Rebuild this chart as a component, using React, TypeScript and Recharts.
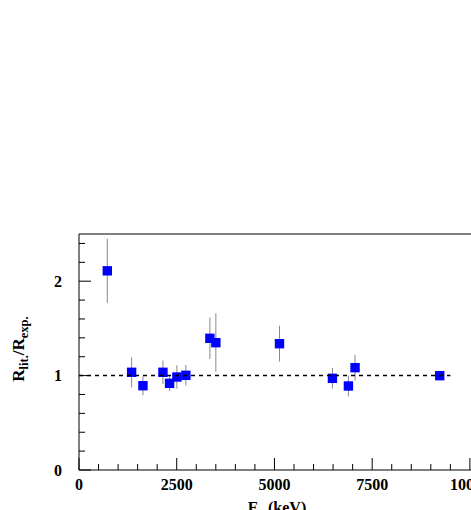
import React from "react";
import { ScatterChart, Scatter, XAxis, YAxis, ErrorBar, ReferenceLine } from "recharts";

// gamma energies (keV) and R_lit/R_exp ratios
const energies = [724, 1346, 1636, 2147, 2317, 2504, 2734, 3348, 3501, 5129, 6483, 6892, 7062, 9228];
const ratios = [2.11, 1.035, 0.893, 1.035, 0.918, 0.985, 1.003, 1.395, 1.349, 1.338, 0.971, 0.89, 1.084, 0.999];
const errDown = [0.34, 0.16, 0.1, 0.125, 0.08, 0.125, 0.11, 0.22, 0.31, 0.19, 0.11, 0.11, 0.135, 0.02];
const errUp = [0.34, 0.16, 0.1, 0.125, 0.08, 0.125, 0.11, 0.22, 0.31, 0.19, 0.11, 0.11, 0.135, 0.02];

const unityLineX = [0, 9500];
const unityLineY = [1, 1];

const xTicks = [0, 500, 1000, 1500, 2000, 2500, 3000, 3500, 4000, 4500, 5000, 5500, 6000, 6500, 7000, 7500, 8000, 8500, 9000, 9500, 10000, 10500, 11000];
const xMajor = [0, 2500, 5000, 7500, 10000];
const yTicks = [0, 0.2, 0.4, 0.6, 0.8, 1, 1.2, 1.4, 1.6, 1.8, 2, 2.2, 2.4];
const yMajor = [0, 1, 2];
const yTop = 2.5;

const points = energies.map((e, i) => ({ e, r: ratios[i], err: [errDown[i], errUp[i]] }));
const unityLine = unityLineX.map((e, i) => ({ e, r: unityLineY[i] }));

const FONT = "'Liberation Serif', 'DejaVu Serif', serif";

function XTick({ x, y, payload }: any) {
  const major = xMajor.includes(payload.value);
  return (
    <g>
      <line x1={x} x2={x} y1={y} y2={y - (major ? 12 : 6)} stroke="#000" strokeWidth={1} />
      {major && (
        <text x={x} y={y + 20} textAnchor="middle" fontFamily={FONT} fontWeight="bold" fontSize={16} fill="#000">
          {payload.value}
        </text>
      )}
    </g>
  );
}

function YTick({ x, y, payload }: any) {
  const major = yMajor.some((m) => Math.abs(m - payload.value) < 1e-6);
  return (
    <g>
      <line x1={x} x2={x + (major ? 12 : 6)} y1={y} y2={y} stroke="#000" strokeWidth={1} />
      {major && (
        <text x={x - 17} y={y} dy="0.35em" textAnchor="end" fontFamily={FONT} fontWeight="bold" fontSize={16} fill="#000">
          {payload.value}
        </text>
      )}
    </g>
  );
}

function Square({ cx, cy }: any) {
  return <rect x={cx - 4.7} y={cy - 4.7} width={9.4} height={9.4} fill="#0000ff" />;
}

export default function App() {
  return (
    <div style={{ position: "absolute", left: 0, top: 0, width: 471, height: 510, overflow: "hidden", background: "#fff" }}>
      <ScatterChart width={509} height={510} margin={{ top: 234, right: 0, bottom: 0, left: 0 }}>
        <XAxis
          type="number"
          dataKey="e"
          domain={[0, 11000]}
          ticks={xTicks}
          interval={0}
          tickSize={0}
          tickMargin={0}
          tick={<XTick />}
          axisLine={{ stroke: "#000" }}
          height={40}
        />
        <YAxis
          type="number"
          dataKey="r"
          domain={[0, yTop]}
          ticks={yTicks}
          interval={0}
          tickSize={0}
          tickMargin={0}
          tick={<YTick />}
          axisLine={{ stroke: "#000" }}
          width={79}
        />
        <ReferenceLine y={yTop} stroke="#000" strokeWidth={1} />
        <Scatter data={points} shape={<Square />} isAnimationActive={false}>
          <ErrorBar dataKey="err" direction="y" width={0} stroke="#888" strokeWidth={1} />
        </Scatter>
        <Scatter
          data={unityLine}
          line={{ stroke: "#000", strokeWidth: 1.5, strokeDasharray: "4 4" }}
          shape={() => null}
          isAnimationActive={false}
        />
      </ScatterChart>
      <svg width={471} height={510} style={{ position: "absolute", left: 0, top: 0, pointerEvents: "none" }}>
        <text transform="translate(23.5, 349) rotate(-90)" textAnchor="middle" fontFamily={FONT} fontWeight="bold" fontSize={17} fill="#000">
          R<tspan fontSize={12.5} dy={4}>lit.</tspan>
          <tspan dy={-4}>/R</tspan>
          <tspan fontSize={12.5} dy={4}>exp.</tspan>
        </text>
        <text x={277} y={513} textAnchor="middle" fontFamily={FONT} fontWeight="bold" fontSize={16} fill="#000">
          E<tspan fontSize={12} dy={4}>γ</tspan>
          <tspan dy={-4}> (keV)</tspan>
        </text>
      </svg>
    </div>
  );
}
